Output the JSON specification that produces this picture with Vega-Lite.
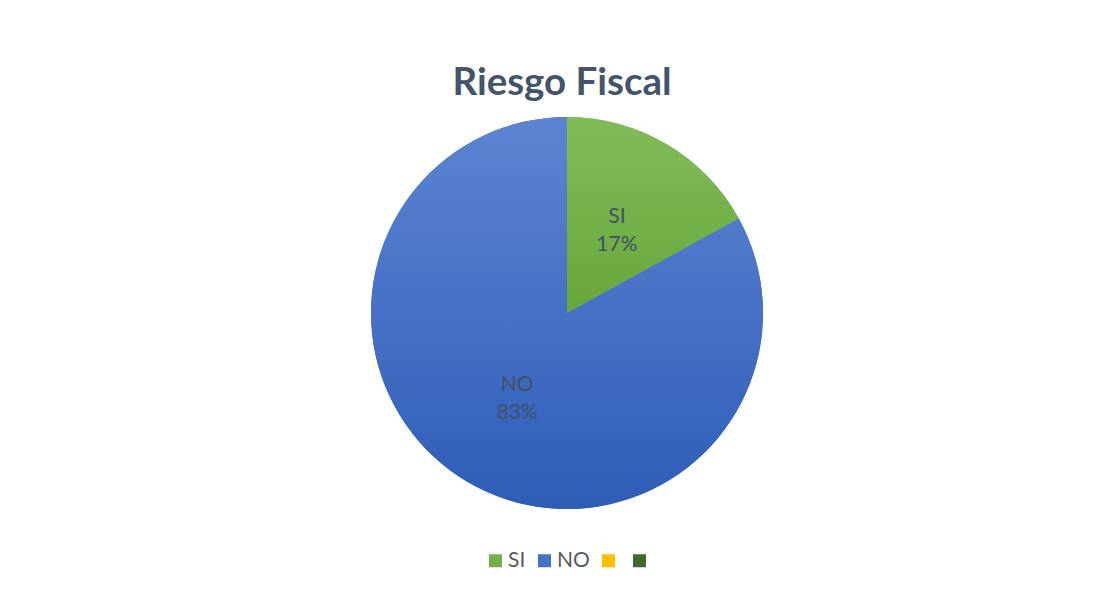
{
  "$schema": "https://vega.github.io/schema/vega-lite/v6.json",
  "width": 392,
  "height": 392,
  "autosize": "none",
  "padding": {"left": 371, "top": 117, "right": 351, "bottom": 84},
  "background": "white",
  "title": {"text": "Riesgo Fiscal", "font": "Lato", "fontSize": 38.5, "fontWeight": "bold", "color": "#44546A", "offset": 14, "anchor": "middle", "dx": -5},
  "data": {"values": [
    {"cat": "SI", "value": 17, "idx": 1, "label": "SI\n17%"},
    {"cat": "NO", "value": 83, "idx": 2, "label": "NO\n83%"},
    {"cat": "x3", "value": 0, "idx": 3, "label": ""},
    {"cat": "x4", "value": 0, "idx": 4, "label": ""}
  ]},
  "encoding": {
    "theta": {"field": "value", "type": "quantitative", "stack": true},
    "order": {"field": "idx", "type": "quantitative"}
  },
  "layer": [
    {
      "mark": {"type": "arc", "outerRadius": 196},
      "encoding": {
        "color": {
          "field": "cat", "type": "nominal",
          "scale": {"domain": ["SI", "NO", "x3", "x4"], "range": ["#72B04A", "#4472C4", "#FFC000", "#3F6B2C"]},
          "legend": {
            "orient": "none", "legendX": 114, "legendY": 433,
            "direction": "horizontal", "title": null,
            "symbolType": "square", "symbolSize": 169, "symbolStrokeWidth": 0,
            "labelFont": "Lato", "labelFontSize": 21, "labelColor": "#595959",
            "labelOffset": 2, "columnPadding": 8,
            "labelExpr": "datum.label == 'SI' || datum.label == 'NO' ? datum.label : ''"
          }
        }
      }
    },
    {
      "mark": {"type": "arc", "outerRadius": 196},
      "encoding": {
        "fill": {
          "condition": {"test": "datum.cat == 'SI'", "value": {"gradient": "linear", "x1": 0, "y1": 0, "x2": 0, "y2": 1, "stops": [{"offset": 0, "color": "#82BC5A"}, {"offset": 1, "color": "#66A73B"}]}},
          "value": {"gradient": "linear", "x1": 0, "y1": 0, "x2": 0, "y2": 1, "stops": [{"offset": 0, "color": "#5D84D2"}, {"offset": 1, "color": "#2E5DB8"}]}
        }
      }
    },
    {
      "transform": [{"filter": "datum.value > 0"}],
      "mark": {"type": "text", "radius": 98, "font": "Lato", "fontSize": 21, "lineHeight": 28, "lineBreak": "\n", "color": "#445064", "baseline": "middle", "align": "center", "dy": -12},
      "encoding": {
        "text": {"field": "label"}
      }
    }
  ]
}
